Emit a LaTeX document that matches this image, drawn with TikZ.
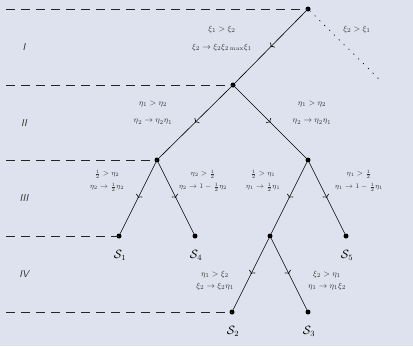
\documentclass[tikz,border=0pt]{standalone}
\usetikzlibrary{decorations.markings,arrows.meta}
\definecolor{bg}{RGB}{222,226,238}
\definecolor{txt}{RGB}{50,50,50}
\begin{document}
\begin{tikzpicture}[x=1pt,y=-1pt,
  dot/.style={circle,fill=black,inner sep=0pt,minimum size=5pt},
  dashline/.style={line width=0.8pt,dash pattern=on 9pt off 6pt,black!85},
  edge/.style={line width=0.6pt,postaction={decorate},
    decoration={markings,mark=at position 0.5 with {\arrow{To[length=3pt,width=7pt]}}}},
  lab/.style={font=\footnotesize,text=txt,inner sep=0pt},
  slab/.style={font=\large,inner sep=0pt},
  lab3/.style={font=\scriptsize,text=txt,inner sep=0pt},
  roman/.style={font=\sffamily\itshape,text=txt}]
\useasboundingbox[fill=bg] (0,0) rectangle (413,346);
% tree nodes
\node[dot] (A) at (308,9) {};
\node[dot] (B) at (233,85) {};
\node[dot] (C) at (157,160) {};
\node[dot] (D) at (308,160) {};
\node[dot] (S1) at (119,236) {};
\node[dot] (S4) at (195,236) {};
\node[dot] (E) at (270,236) {};
\node[dot] (S5) at (346,236) {};
\node[dot] (S2) at (232,312) {};
\node[dot] (S3) at (308,312) {};
% left ends of dashed lines
\coordinate (LA) at (6,9);
\coordinate (LB) at (6,85);
\coordinate (LC) at (6,160);
\coordinate (LS1) at (6,236);
\coordinate (LS2) at (6,312);
\coordinate (Aend) at (381,81);
\draw[dashline] (LA) -- (A.center);
\draw[dashline] (LB) -- (B.center);
\draw[dashline] (LC) -- (C.center);
\draw[dashline] (LS1) -- (S1.center);
\draw[dashline] (LS2) -- (S2.center);
\draw[line width=0.7pt,dash pattern=on 0.8pt off 6pt,line cap=round] (A) -- (Aend);
% edges
\draw[edge] (A) -- (B);
\draw[edge] (B) -- (C);
\draw[edge] (B) -- (D);
\draw[edge] (C) -- (S1);
\draw[edge] (C) -- (S4);
\draw[edge] (D) -- (E);
\draw[edge] (D) -- (S5);
\draw[edge] (E) -- (S2);
\draw[edge] (E) -- (S3);
% state labels
\node[slab] (tS1) at (120,255) {$\mathcal{S}_1$};
\node[slab] (tS4) at (196,255) {$\mathcal{S}_4$};
\node[slab] (tS5) at (347,255) {$\mathcal{S}_5$};
\node[slab] (tS2) at (233,331) {$\mathcal{S}_2$};
\node[slab] (tS3) at (309,331) {$\mathcal{S}_3$};
% roman numerals
\node[roman] (r1) at (24,47) {I};
\node[roman] (r2) at (24,123) {II};
\node[roman] (r3) at (24,198) {III};
\node[roman] (r4) at (24,274) {IV};
% level I labels
\node[lab] (l1a) at (222,29) {$\xi_1>\xi_2$};
\node[lab] (l1b) at (222,47) {$\xi_2\to\xi_2\xi_{2\max}\xi_1$};
\node[lab] (l1c) at (357,29) {$\xi_2>\xi_1$};
% level II labels
\node[lab] (l2a) at (153,104) {$\eta_1>\eta_2$};
\node[lab] (l2b) at (153,122) {$\eta_2\to\eta_2\eta_1$};
\node[lab] (l2c) at (312,104) {$\eta_1>\eta_2$};
\node[lab] (l2d) at (312,122) {$\eta_2\to\eta_2\eta_1$};
% level III labels
\node[lab3] (l3a) at (107,174) {$\frac12>\eta_2$};
\node[lab3] (l3b) at (107,187) {$\eta_2\to\frac12\eta_2$};
\node[lab3] (l3c) at (203,174) {$\eta_2>\frac12$};
\node[lab3] (l3d) at (203,187) {$\eta_2\to1-\frac12\eta_2$};
\node[lab3] (l3e) at (263,174) {$\frac12>\eta_1$};
\node[lab3] (l3f) at (263,187) {$\eta_1\to\frac12\eta_1$};
\node[lab3] (l3g) at (359,174) {$\eta_1>\frac12$};
\node[lab3] (l3h) at (359,187) {$\eta_1\to1-\frac12\eta_1$};
% level IV labels
\node[lab] (l4a) at (215,274) {$\eta_1>\xi_2$};
\node[lab] (l4b) at (215,286) {$\xi_2\to\xi_2\eta_1$};
\node[lab] (l4c) at (327,274) {$\xi_2>\eta_1$};
\node[lab] (l4d) at (327,286) {$\eta_1\to\eta_1\xi_2$};
\end{tikzpicture}
\end{document}
